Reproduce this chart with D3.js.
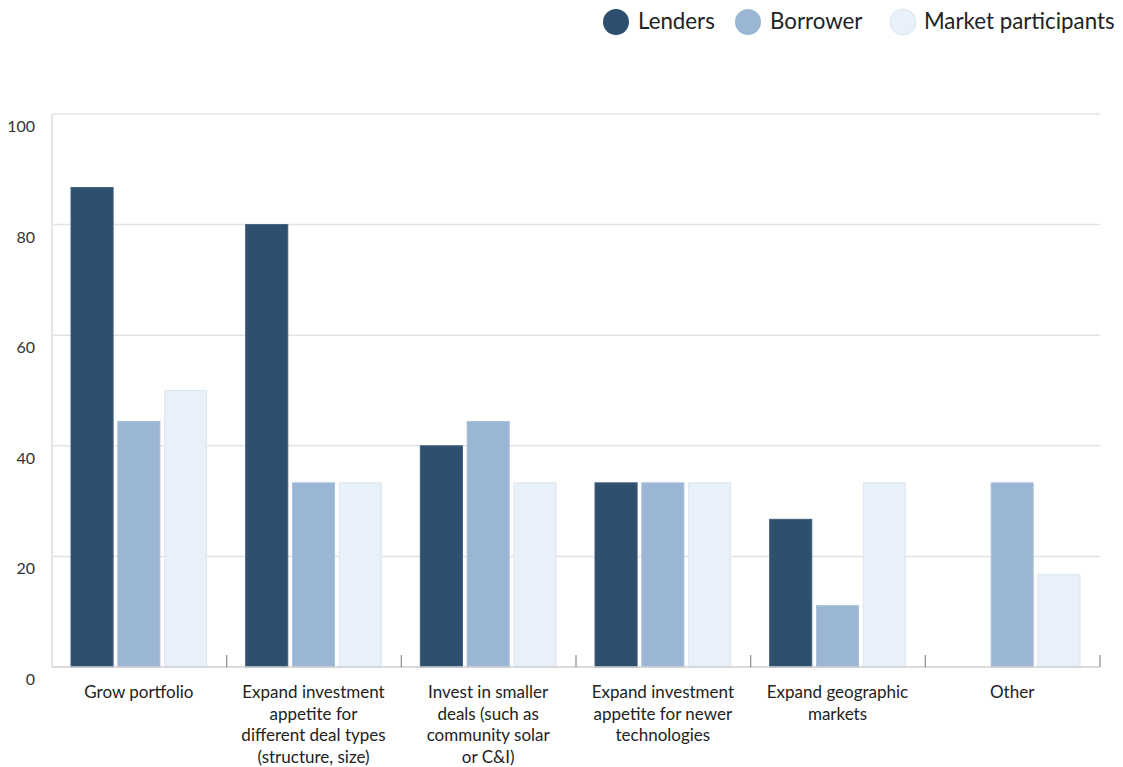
<!DOCTYPE html>
<html>
<head>
<meta charset="utf-8">
<script src="https://cdn.jsdelivr.net/npm/d3@7"></script>
<style>
  html, body { margin: 0; padding: 0; background: #ffffff; }
  svg { display: block; font-family: "Lato", "Noto Sans", sans-serif; }
</style>
</head>
<body>
<svg id="chart" width="1123" height="767"></svg>
<script>
// Categories (line breaks mark wrapped axis labels)
const categories = [
  "Grow portfolio",
  "Expand investment\nappetite for\ndifferent deal types\n(structure, size)",
  "Invest in smaller\ndeals (such as\ncommunity solar\nor C&I)",
  "Expand investment\nappetite for newer\ntechnologies",
  "Expand geographic\nmarkets",
  "Other"
];
const seriesNames = ["Lenders", "Borrower", "Market participants"];
const lenders = [86.7, 80, 40, 33.3, 26.7, 0];
const borrower = [44.4, 33.3, 44.4, 33.3, 11.1, 33.3];
const marketParticipants = [50, 33.3, 33.3, 33.3, 33.3, 16.7];
const yTicks = [0, 20, 40, 60, 80, 100];
const colors = ["#2f4f6e", "#9bb6d4", "#e8f0f9"];
const strokes = ["#3f5f7e", "#a9c1db", "#dde5ee"];

const seriesValues = [lenders, borrower, marketParticipants];

const svg = d3.select("#chart");
const plotLeft = 52, plotRight = 1100, plotTop = 114, plotBottom = 667;

const x0 = d3.scaleBand().domain(categories).range([plotLeft, plotRight]).padding(0);
const x1 = d3.scaleBand().domain(seriesNames)
  .range([19, x0.bandwidth() - 20]).paddingInner(0.1).paddingOuter(0);
const y = d3.scaleLinear().domain([0, 100]).range([plotBottom, plotTop]);
const groupCenter = (x1.range()[0] + x1.range()[1]) / 2;

// Gridlines
svg.append("g").selectAll("line")
  .data(yTicks.filter(t => t > 0))
  .join("line")
  .attr("x1", plotLeft).attr("x2", plotRight)
  .attr("y1", d => y(d)).attr("y2", d => y(d))
  .attr("stroke", "#e3e3e3").attr("stroke-width", 1.5);

// Left frame line
svg.append("line")
  .attr("x1", plotLeft).attr("x2", plotLeft)
  .attr("y1", plotTop).attr("y2", plotBottom)
  .attr("stroke", "#e6e6e6").attr("stroke-width", 2);

// Y tick labels
svg.append("g").selectAll("text")
  .data(yTicks)
  .join("text")
  .attr("x", 35)
  .attr("y", d => y(d) + 18)
  .attr("text-anchor", "end")
  .attr("font-size", 16)
  .attr("fill", "#333")
  .text(d => d);

// Bars
const groups = svg.append("g").selectAll("g")
  .data(categories)
  .join("g")
  .attr("transform", d => `translate(${x0(d)},0)`);

groups.selectAll("rect")
  .data((c, ci) => seriesNames.map((s, si) => ({ s, si, v: seriesValues[si][ci] })).filter(d => d.v > 0))
  .join("rect")
  .attr("x", d => x1(d.s))
  .attr("width", x1.bandwidth())
  .attr("y", d => y(d.v))
  .attr("height", d => y(0) - y(d.v))
  .attr("fill", d => colors[d.si])
  .attr("stroke", d => strokes[d.si])
  .attr("stroke-width", 1);

// Bottom axis line and boundary ticks
svg.append("line")
  .attr("x1", plotLeft).attr("x2", plotRight)
  .attr("y1", plotBottom).attr("y2", plotBottom)
  .attr("stroke", "#cfcfcf").attr("stroke-width", 1.5);

svg.append("g").selectAll("line")
  .data(categories.slice(1).map(c => x0(c)).concat([plotRight]))
  .join("line")
  .attr("x1", d => d).attr("x2", d => d)
  .attr("y1", plotBottom - 12).attr("y2", plotBottom)
  .attr("stroke", "#8a8a8a").attr("stroke-width", 1.2);

// Category labels
const labels = svg.append("g").selectAll("text")
  .data(categories)
  .join("text")
  .attr("text-anchor", "middle")
  .attr("font-size", 17)
  .attr("fill", "#222")
  .attr("y", 698);
labels.selectAll("tspan")
  .data(d => d.split("\n").map(line => ({ line, cx: x0(d) + groupCenter })))
  .join("tspan")
  .attr("x", d => d.cx)
  .attr("dy", (d, i) => i === 0 ? 0 : 21.5)
  .text(d => d.line);

// Legend
const legendItems = [
  { name: seriesNames[0], cx: 616, tx: 638 },
  { name: seriesNames[1], cx: 748, tx: 770 },
  { name: seriesNames[2], cx: 903, tx: 924 }
];
const legend = svg.append("g").selectAll("g")
  .data(legendItems)
  .join("g");
legend.append("circle")
  .attr("cx", d => d.cx).attr("cy", 22).attr("r", 13)
  .attr("fill", (d, i) => colors[i])
  .attr("stroke", (d, i) => i === 2 ? "#dde5ee" : "none");
legend.append("text")
  .attr("x", d => d.tx).attr("y", 29)
  .attr("font-size", 22.3)
  .attr("fill", "#222")
  .text(d => d.name);
</script>
</body>
</html>
